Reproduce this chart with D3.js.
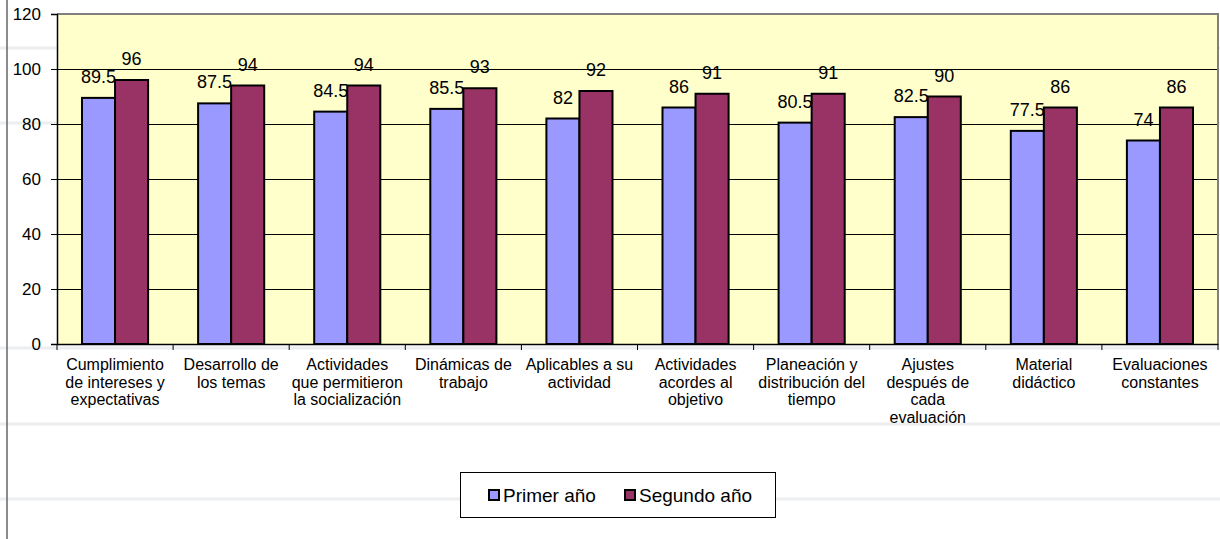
<!DOCTYPE html>
<html>
<head>
<meta charset="utf-8">
<script src="https://cdn.jsdelivr.net/npm/d3@7"></script>
<style>
  body { margin: 0; background: #fff; }
  svg text { font-family: "Liberation Sans", Arial, sans-serif; fill: #000; }
</style>
</head>
<body>
<svg id="chart" width="1220" height="539"></svg>
<script>
// categorías (cada una partida en líneas como en el original)
const categories = [
    ["Cumplimiento", "de intereses y", "expectativas"],
    ["Desarrollo  de", "los temas"],
    ["Actividades", "que permitieron", "la socialización"],
    ["Dinámicas de", "trabajo"],
    ["Aplicables a su", "actividad"],
    ["Actividades", "acordes al", "objetivo"],
    ["Planeación y", "distribución del", "tiempo"],
    ["Ajustes", "después de", "cada", "evaluación"],
    ["Material", "didáctico"],
    ["Evaluaciones", "constantes"]
];
const primerAno = [89.5, 87.5, 84.5, 85.5, 82, 86, 80.5, 82.5, 77.5, 74];
const segundoAno = [96, 94, 94, 93, 92, 91, 91, 90, 86, 86];
const seriesNames = ["Primer año", "Segundo año"];
const seriesColors = ["#9999FF", "#993366"];
const yTicks = [0, 20, 40, 60, 80, 100, 120];

const svg = d3.select("#chart");
const plotLeft = 57, plotRight = 1218, plotTop = 14, plotBottom = 344;

// líneas tenues del fondo
[48, 123, 348, 424, 499].forEach(yy => {
    svg.append("line")
        .attr("x1", 0).attr("x2", 1220)
        .attr("y1", yy).attr("y2", yy)
        .attr("stroke", "#eceef0").attr("stroke-width", 3);
});
svg.append("line")
    .attr("x1", 7).attr("x2", 7).attr("y1", 0).attr("y2", 539)
    .attr("stroke", "#666").attr("stroke-width", 1.5);

const x = d3.scaleBand()
    .domain(d3.range(categories.length))
    .range([plotLeft, plotRight])
    .paddingInner(0).paddingOuter(0);
const bandPad = 25;
const xSeries = d3.scaleBand()
    .domain([0, 1])
    .range([bandPad, x.bandwidth() - bandPad]);
const y = d3.scaleLinear().domain([0, 120]).range([plotBottom, plotTop]);

// fondo del área de trazado
svg.append("rect")
    .attr("x", plotLeft).attr("y", plotTop)
    .attr("width", plotRight - plotLeft).attr("height", plotBottom - plotTop)
    .attr("fill", "#FFFFCC");

// líneas de división
svg.append("g")
    .selectAll("line")
    .data(yTicks.filter(t => t > 0 && t < 120))
    .join("line")
    .attr("x1", plotLeft).attr("x2", plotRight)
    .attr("y1", d => Math.round(y(d)) + 0.5).attr("y2", d => Math.round(y(d)) + 0.5)
    .attr("stroke", "#000").attr("stroke-width", 1);

// borde superior y derecho
svg.append("path")
    .attr("d", `M${plotLeft},${plotTop}H${plotRight}V${plotBottom}`)
    .attr("fill", "none").attr("stroke", "#808080").attr("stroke-width", 2);

// barras y etiquetas: la etiqueta azul queda tapada por la barra roja, como en el original
const series = [primerAno, segundoAno];
series.forEach((vals, s) => {
    svg.append("g")
        .selectAll("rect")
        .data(vals)
        .join("rect")
        .attr("x", (d, i) => x(i) + xSeries(s))
        .attr("y", d => y(d))
        .attr("width", xSeries.bandwidth())
        .attr("height", d => y(0) - y(d))
        .attr("fill", seriesColors[s])
        .attr("stroke", "#000").attr("stroke-width", 2);

    svg.append("g")
        .selectAll("text")
        .data(vals)
        .join("text")
        .attr("x", (d, i) => x(i) + xSeries(s) + xSeries.bandwidth() / 2)
        .attr("y", d => y(d) - 15)
        .attr("text-anchor", "middle")
        .attr("font-size", 18)
        .text(d => d);
});

// eje Y
const yAxis = svg.append("g")
    .attr("transform", `translate(${plotLeft},0)`)
    .call(d3.axisLeft(y).tickValues(yTicks).tickSize(6).tickPadding(10));
yAxis.select(".domain").attr("stroke", "#000").attr("stroke-width", 1.5);
yAxis.selectAll("line").attr("stroke", "#000");
yAxis.selectAll("text").attr("font-size", 17).attr("font-family", null);

// eje X
const xAxis = svg.append("g")
    .attr("transform", `translate(0,${plotBottom})`)
    .call(d3.axisBottom(x).tickSize(0).tickFormat(""));
xAxis.select(".domain").attr("stroke", "#000").attr("stroke-width", 1.5);
svg.append("g")
    .selectAll("line")
    .data(d3.range(categories.length + 1))
    .join("line")
    .attr("x1", i => plotLeft + i * x.bandwidth()).attr("x2", i => plotLeft + i * x.bandwidth())
    .attr("y1", plotBottom).attr("y2", plotBottom + 6)
    .attr("stroke", "#000");

svg.append("g")
    .selectAll("text")
    .data(categories)
    .join("text")
    .attr("text-anchor", "middle")
    .attr("font-size", 16)
    .attr("transform", (d, i) => `translate(${x(i) + x.bandwidth() / 2},370)`)
    .selectAll("tspan")
    .data(d => d)
    .join("tspan")
    .attr("x", 0)
    .attr("y", (d, j) => j * 17.5)
    .text(d => d);

// leyenda
const legend = svg.append("g");
legend.append("rect")
    .attr("x", 460.5).attr("y", 472.5).attr("width", 315).attr("height", 45)
    .attr("fill", "#fff").attr("stroke", "#000").attr("stroke-width", 1);
const legendX = [489, 625];
seriesNames.forEach((name, s) => {
    legend.append("rect")
        .attr("x", legendX[s]).attr("y", 490)
        .attr("width", 10).attr("height", 10)
        .attr("fill", seriesColors[s]).attr("stroke", "#000").attr("stroke-width", 2);
    legend.append("text")
        .attr("x", legendX[s] + 14).attr("y", 502)
        .attr("font-size", 19)
        .text(name);
});
</script>
</body>
</html>
